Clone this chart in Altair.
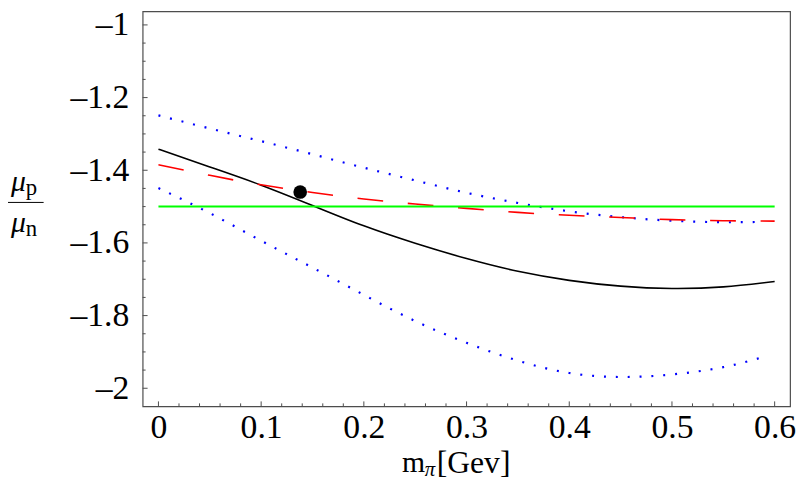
import altair as alt
import pandas as pd

# ---------------- data ----------------
x_grid = [0.0, 0.05, 0.10, 0.15, 0.20, 0.25, 0.30, 0.35, 0.40, 0.45, 0.50, 0.55, 0.60]
black_vals = [-1.342, -1.391, -1.441, -1.497, -1.553, -1.601, -1.643, -1.678, -1.703, -1.719, -1.7255, -1.721, -1.706]
red_vals = [-1.385, -1.414, -1.440, -1.461, -1.479, -1.493, -1.505, -1.516, -1.524, -1.530, -1.536, -1.539, -1.540]
blue_x = [0.0, 0.05, 0.10, 0.15, 0.20, 0.25, 0.30, 0.35, 0.40, 0.45, 0.50, 0.55, 0.59]
blue_upper = [-1.249, -1.285, -1.320, -1.356, -1.393, -1.428, -1.462, -1.490, -1.513, -1.529, -1.539, -1.543, -1.542]
blue_lower = [-1.449, -1.518, -1.594, -1.668, -1.743, -1.815, -1.875, -1.924, -1.958, -1.969, -1.962, -1.942, -1.913]
green_x = [0.0, 0.6]
green_vals = [-1.5, -1.5]
point_x = [0.138]
point_y = [-1.46]

x_major = [0.0, 0.1, 0.2, 0.3, 0.4, 0.5, 0.6]
x_minor = [0.02, 0.04, 0.06, 0.08, 0.12, 0.14, 0.16, 0.18, 0.22, 0.24, 0.26, 0.28,
           0.32, 0.34, 0.36, 0.38, 0.42, 0.44, 0.46, 0.48, 0.52, 0.54, 0.56, 0.58]
y_major = [-2.0, -1.8, -1.6, -1.4, -1.2, -1.0]
y_minor = [-1.95, -1.9, -1.85, -1.75, -1.7, -1.65, -1.55, -1.5, -1.45,
           -1.35, -1.3, -1.25, -1.15, -1.1, -1.05]

W, H = 654, 399
FONT = "Liberation Serif"
FRAME = "#4d4d4d"
MINUS = "\u2013"
LABEL_EXPR = ("datum.value < 0 ? '" + MINUS + "' + format(-datum.value, '~g') "
              ": format(datum.value, '~g')")

xs = alt.Scale(domain=[-0.0154, 0.615], nice=False, zero=False)
ys = alt.Scale(domain=[-2.0498, -0.9627], nice=False, zero=False)

X = alt.X("x:Q", scale=xs, axis=alt.Axis(values=x_major, labelExpr=LABEL_EXPR, labelPadding=4))
Y = alt.Y("y:Q", scale=ys, axis=alt.Axis(values=y_major, labelExpr=LABEL_EXPR, labelPadding=14))

black_df = pd.DataFrame({"x": x_grid, "y": black_vals})
red_df = pd.DataFrame({"x": x_grid, "y": red_vals})
bu_df = pd.DataFrame({"x": blue_x, "y": blue_upper})
bl_df = pd.DataFrame({"x": blue_x, "y": blue_lower})
green_df = pd.DataFrame({"x": green_x, "y": green_vals})
pt_df = pd.DataFrame({"x": point_x, "y": point_y})


def curve(df, color, width, dash=None):
    kw = dict(color=color, strokeWidth=width, interpolate="natural", clip=True)
    if dash is not None:
        kw["strokeDash"] = dash
    return alt.Chart(df).mark_line(**kw).encode(x=X, y=Y)


upper = curve(bu_df, "#0000ff", 2.2, [2, 10])
lower = curve(bl_df, "#0000ff", 2.2, [2, 10])
black = curve(black_df, "black", 1.6)
red = curve(red_df, "#ff0000", 1.6, [26, 25])
green = curve(green_df, "#00ff00", 2)
point = alt.Chart(pt_df).mark_point(filled=True, color="black", size=190, opacity=1).encode(x=X, y=Y)

# inward ticks
ymaj = alt.Chart(pd.DataFrame({"y": y_major})).mark_rule(color=FRAME, strokeWidth=1).encode(
    y=Y, x=alt.value(0), x2=alt.value(5))
ymin = alt.Chart(pd.DataFrame({"y": y_minor})).mark_rule(color=FRAME, strokeWidth=1).encode(
    y=Y, x=alt.value(0), x2=alt.value(3))
xmaj = alt.Chart(pd.DataFrame({"x": x_major})).mark_rule(color=FRAME, strokeWidth=1).encode(
    x=X, y=alt.value(H), y2=alt.value(H - 5))
xmin = alt.Chart(pd.DataFrame({"x": x_minor})).mark_rule(color=FRAME, strokeWidth=1).encode(
    x=X, y=alt.value(H), y2=alt.value(H - 3))


# axis titles (annotations)
def txt(t, x, y, size, style="normal", align="left"):
    return alt.Chart(pd.DataFrame({"t": [t]})).mark_text(
        font=FONT, fontSize=size, fontStyle=style, align=align, baseline="alphabetic", color="black"
    ).encode(text="t:N", x=alt.value(x), y=alt.value(y))


xt_m = txt("m", 262, 465, 30)
xt_pi = txt("π", 285, 469, 21, "italic")
xt_gev = txt("[Gev]", 297, 466, 32)

yt_mu1 = txt("μ", -133, 181, 30, "italic")
yt_p = txt("p", -118, 185, 23)
yt_line = alt.Chart(pd.DataFrame({"a": [0]})).mark_rule(color="black", strokeWidth=1).encode(
    x=alt.value(-136), x2=alt.value(-100), y=alt.value(193))
yt_mu2 = txt("μ", -133, 223, 30, "italic")
yt_n = txt("n", -118, 227, 23)

chart = alt.layer(
    ymaj, ymin, xmaj, xmin,
    upper, lower, black, red, green, point,
    xt_m, xt_pi, xt_gev, yt_mu1, yt_p, yt_line, yt_mu2, yt_n,
).properties(
    width=W, height=H,
    padding={"left": 136, "top": 1, "right": 6, "bottom": 72},
    autosize=alt.AutoSizeParams(type="none"),
    background="white",
).configure_view(
    stroke=FRAME, strokeWidth=1.2
).configure_axis(
    labelFont=FONT, labelFontSize=34, labelColor="black", ticks=False, domain=False,
    grid=False, title=None, labelFlush=False, labelOverlap=False
)

chart.save("out.html", embed_options={"renderer": "svg", "actions": False})
